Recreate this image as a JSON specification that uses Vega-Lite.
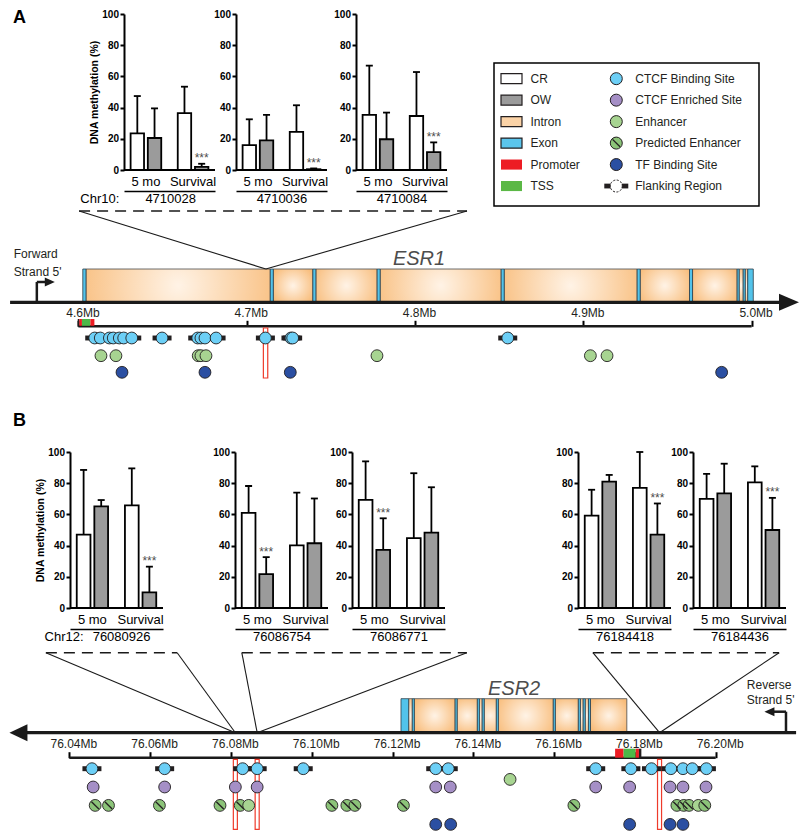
{
"$schema": "https://vega.github.io/schema/vega-lite/v6.json",
"background": "white",
"padding": {"left": 8, "top": 9, "right": 0, "bottom": 0},
"config": {
  "font": "Liberation Sans",
  "view": {"stroke": null},
  "axisBand": {"domainColor": "black", "domainWidth": 1.5, "ticks": false, "tickSize": 0, "labelAngle": 0, "labelFontSize": 13, "labelColor": "black", "labelPadding": -16, "titleFontSize": 13, "titleFontWeight": "normal", "titleColor": "black", "titlePadding": 1, "grid": false},
  "axisLeft": {"domainColor": "black", "domainWidth": 2, "tickColor": "black", "tickWidth": 2, "tickSize": 4, "tickCount": 6, "labelFontSize": 10, "labelFontWeight": "bold", "labelColor": "black", "labelPadding": 1.5, "titleFontSize": 10.5, "titleFontWeight": "bold", "titleColor": "black", "titlePadding": 2, "grid": false},
  "axisTop": {"domain": false, "tickColor": "black", "tickWidth": 2, "tickSize": 6, "labelFontSize": 12, "labelColor": "#231f20", "labelPadding": 1, "grid": false, "labelOverlap": false, "labelFlush": false}
},
"datasets": {
  "bars": [
    {"site":"4710028","stage":"5 mo","group":"CR","value":23.5,"err":47.4,"sig":""},
    {"site":"4710028","stage":"5 mo","group":"OW","value":20.5,"err":39.5,"sig":""},
    {"site":"4710028","stage":"Survival","group":"CR","value":36.5,"err":53.4,"sig":""},
    {"site":"4710028","stage":"Survival","group":"OW","value":2,"err":4,"sig":"***"},
    {"site":"4710036","stage":"5 mo","group":"CR","value":16,"err":32.5,"sig":""},
    {"site":"4710036","stage":"5 mo","group":"OW","value":19,"err":35.3,"sig":""},
    {"site":"4710036","stage":"Survival","group":"CR","value":24.4,"err":41.5,"sig":""},
    {"site":"4710036","stage":"Survival","group":"OW","value":0.5,"err":1,"sig":"***"},
    {"site":"4710084","stage":"5 mo","group":"CR","value":35.3,"err":66.9,"sig":""},
    {"site":"4710084","stage":"5 mo","group":"OW","value":19.7,"err":36.8,"sig":""},
    {"site":"4710084","stage":"Survival","group":"CR","value":34.6,"err":62.8,"sig":""},
    {"site":"4710084","stage":"Survival","group":"OW","value":11.5,"err":17.7,"sig":"***"},
    {"site":"76080926","stage":"5 mo","group":"CR","value":47,"err":88.5,"sig":""},
    {"site":"76080926","stage":"5 mo","group":"OW","value":65.2,"err":69.2,"sig":""},
    {"site":"76080926","stage":"Survival","group":"CR","value":65.8,"err":89.5,"sig":""},
    {"site":"76080926","stage":"Survival","group":"OW","value":10,"err":26.5,"sig":"***"},
    {"site":"76086754","stage":"5 mo","group":"CR","value":61,"err":78.2,"sig":""},
    {"site":"76086754","stage":"5 mo","group":"OW","value":21.7,"err":32.6,"sig":"***"},
    {"site":"76086754","stage":"Survival","group":"CR","value":40.2,"err":74,"sig":""},
    {"site":"76086754","stage":"Survival","group":"OW","value":41.5,"err":70.2,"sig":""},
    {"site":"76086771","stage":"5 mo","group":"CR","value":69.3,"err":94,"sig":""},
    {"site":"76086771","stage":"5 mo","group":"OW","value":37.3,"err":57.5,"sig":"***"},
    {"site":"76086771","stage":"Survival","group":"CR","value":44.8,"err":86.4,"sig":""},
    {"site":"76086771","stage":"Survival","group":"OW","value":48.3,"err":77.4,"sig":""},
    {"site":"76184418","stage":"5 mo","group":"CR","value":59.2,"err":75.8,"sig":""},
    {"site":"76184418","stage":"5 mo","group":"OW","value":81,"err":85.3,"sig":""},
    {"site":"76184418","stage":"Survival","group":"CR","value":77,"err":100,"sig":""},
    {"site":"76184418","stage":"Survival","group":"OW","value":47,"err":67,"sig":"***"},
    {"site":"76184436","stage":"5 mo","group":"CR","value":70,"err":86,"sig":""},
    {"site":"76184436","stage":"5 mo","group":"OW","value":73.5,"err":92.5,"sig":""},
    {"site":"76184436","stage":"Survival","group":"CR","value":80.5,"err":90.8,"sig":""},
    {"site":"76184436","stage":"Survival","group":"OW","value":50,"err":70.6,"sig":"***"}
  ],
  "legendItems": [
    {"label":"CR","col":0,"row":0,"kind":"box"},
    {"label":"OW","col":0,"row":1,"kind":"box"},
    {"label":"Intron","col":0,"row":2,"kind":"box"},
    {"label":"Exon","col":0,"row":3,"kind":"box"},
    {"label":"Promoter","col":0,"row":4,"kind":"flat"},
    {"label":"TSS","col":0,"row":5,"kind":"flat"},
    {"label":"CTCF Binding Site","col":1,"row":0,"kind":"dot"},
    {"label":"CTCF Enriched Site","col":1,"row":1,"kind":"dot"},
    {"label":"Enhancer","col":1,"row":2,"kind":"dot"},
    {"label":"Predicted Enhancer","col":1,"row":3,"kind":"dot"},
    {"label":"TF Binding Site","col":1,"row":4,"kind":"dot"},
    {"label":"Flanking Region","col":1,"row":5,"kind":"flank"}
  ],
  "partsA": [
    {"start":4.6026,"end":4.6045,"part":"exon"},
    {"start":4.6045,"end":4.7140,"part":"intron"},
    {"start":4.7140,"end":4.7158,"part":"exon"},
    {"start":4.7158,"end":4.7393,"part":"intron"},
    {"start":4.7393,"end":4.7411,"part":"exon"},
    {"start":4.7411,"end":4.7775,"part":"intron"},
    {"start":4.7775,"end":4.7793,"part":"exon"},
    {"start":4.7793,"end":4.8512,"part":"intron"},
    {"start":4.8512,"end":4.8530,"part":"exon"},
    {"start":4.8530,"end":4.9320,"part":"intron"},
    {"start":4.9320,"end":4.9338,"part":"exon"},
    {"start":4.9338,"end":4.9631,"part":"intron"},
    {"start":4.9631,"end":4.9649,"part":"exon"},
    {"start":4.9649,"end":4.9914,"part":"intron"},
    {"start":4.9914,"end":4.9926,"part":"exon"},
    {"start":4.9926,"end":4.9950,"part":"intron"},
    {"start":4.9950,"end":4.9962,"part":"exon"},
    {"start":4.9962,"end":4.9977,"part":"intron"},
    {"start":4.9977,"end":5.0010,"part":"exon"}
  ],
  "linesA": [
    {"x":4.6004,"x2":4.8309,"y":9.13,"y2":9.13,"style":"dash"},
    {"x":4.6004,"x2":4.7114,"y":9.13,"y2":3.33,"style":"link"},
    {"x":4.8309,"x2":4.7114,"y":9.13,"y2":3.33,"style":"link"},
    {"x":4.5594,"x2":5.0222,"y":0,"y2":0,"style":"strand"},
    {"x":4.5753,"x2":4.5753,"y":0,"y2":2.03,"style":"bent"},
    {"x":4.5753,"x2":4.5830,"y":2.03,"y2":2.03,"style":"bent"},
    {"x":4.6,"x2":5.0,"y":-2.4,"y2":-2.4,"style":"scale"}
  ],
  "arrowsA": [
    {"x":5.0222,"y":0,"kind":"main"},
    {"x":4.5830,"y":2.03,"kind":"bent"}
  ],
  "labelsA": [
    {"x":4.8024,"y":4.33,"text":"ESR1","kind":"gene"},
    {"x":4.5616,"y":4.83,"text":"Forward","kind":"strand"},
    {"x":4.5616,"y":3.03,"text":"Strand 5'","kind":"strand"}
  ],
  "promA": [
    {"start":4.5996,"end":4.6005,"part":"edge"},
    {"start":4.6005,"end":4.6021,"part":"promoter"},
    {"start":4.6021,"end":4.6071,"part":"tss"},
    {"start":4.6071,"end":4.6095,"part":"promoter"}
  ],
  "cpgA": [
    {"start":4.7099,"end":4.7125}
  ],
  "sitesA": [
    {"pos":4.6097,"type":"CTCF Binding Site","lane":-3.57},
    {"pos":4.6130,"type":"CTCF Binding Site","lane":-3.57},
    {"pos":4.6184,"type":"CTCF Binding Site","lane":-3.57},
    {"pos":4.6207,"type":"CTCF Binding Site","lane":-3.57},
    {"pos":4.6243,"type":"CTCF Binding Site","lane":-3.57},
    {"pos":4.6269,"type":"CTCF Binding Site","lane":-3.57},
    {"pos":4.6317,"type":"CTCF Binding Site","lane":-3.57},
    {"pos":4.6497,"type":"CTCF Binding Site","lane":-3.57},
    {"pos":4.6709,"type":"CTCF Binding Site","lane":-3.57},
    {"pos":4.6728,"type":"CTCF Binding Site","lane":-3.57},
    {"pos":4.6752,"type":"CTCF Binding Site","lane":-3.57},
    {"pos":4.6818,"type":"CTCF Binding Site","lane":-3.57},
    {"pos":4.7111,"type":"CTCF Binding Site","lane":-3.57},
    {"pos":4.7263,"type":"CTCF Binding Site","lane":-3.57},
    {"pos":4.7273,"type":"CTCF Binding Site","lane":-3.57},
    {"pos":4.8551,"type":"CTCF Binding Site","lane":-3.57},
    {"pos":4.6134,"type":"Enhancer","lane":-5.34},
    {"pos":4.6223,"type":"Enhancer","lane":-5.34},
    {"pos":4.6712,"type":"Enhancer","lane":-5.34},
    {"pos":4.6728,"type":"Enhancer","lane":-5.34},
    {"pos":4.6758,"type":"Enhancer","lane":-5.34},
    {"pos":4.7774,"type":"Enhancer","lane":-5.34},
    {"pos":4.9042,"type":"Enhancer","lane":-5.34},
    {"pos":4.9141,"type":"Enhancer","lane":-5.34},
    {"pos":4.6259,"type":"TF Binding Site","lane":-7.0},
    {"pos":4.6752,"type":"TF Binding Site","lane":-7.0},
    {"pos":4.7259,"type":"TF Binding Site","lane":-7.0},
    {"pos":4.9822,"type":"TF Binding Site","lane":-7.0}
  ],
  "partsB": [
    {"start":76.1221,"end":76.1240,"part":"exon"},
    {"start":76.1240,"end":76.1249,"part":"intron"},
    {"start":76.1249,"end":76.1254,"part":"exon"},
    {"start":76.1254,"end":76.1355,"part":"intron"},
    {"start":76.1355,"end":76.1360,"part":"exon"},
    {"start":76.1360,"end":76.1410,"part":"intron"},
    {"start":76.1410,"end":76.1415,"part":"exon"},
    {"start":76.1415,"end":76.1422,"part":"intron"},
    {"start":76.1422,"end":76.1427,"part":"exon"},
    {"start":76.1427,"end":76.1457,"part":"intron"},
    {"start":76.1457,"end":76.1462,"part":"exon"},
    {"start":76.1462,"end":76.1598,"part":"intron"},
    {"start":76.1598,"end":76.1603,"part":"exon"},
    {"start":76.1603,"end":76.1660,"part":"intron"},
    {"start":76.1660,"end":76.1665,"part":"exon"},
    {"start":76.1665,"end":76.1672,"part":"intron"},
    {"start":76.1672,"end":76.1677,"part":"exon"},
    {"start":76.1677,"end":76.1685,"part":"intron"},
    {"start":76.1685,"end":76.1690,"part":"exon"},
    {"start":76.1690,"end":76.1780,"part":"intron"}
  ],
  "linesB": [
    {"x":76.0342,"x2":76.0667,"y":8,"y2":8,"style":"dash"},
    {"x":76.0827,"x2":76.1384,"y":8,"y2":8,"style":"dash"},
    {"x":76.1696,"x2":76.2157,"y":8,"y2":8,"style":"dash"},
    {"x":76.0342,"x2":76.0811,"y":8,"y2":0,"style":"link"},
    {"x":76.0667,"x2":76.0811,"y":8,"y2":0,"style":"link"},
    {"x":76.0827,"x2":76.0865,"y":8,"y2":0,"style":"link"},
    {"x":76.1384,"x2":76.0865,"y":8,"y2":0,"style":"link"},
    {"x":76.1696,"x2":76.1861,"y":8,"y2":0,"style":"link"},
    {"x":76.2157,"x2":76.1861,"y":8,"y2":0,"style":"link"},
    {"x":76.0274,"x2":76.2199,"y":0,"y2":0,"style":"strand"},
    {"x":76.2174,"x2":76.2174,"y":0,"y2":2.1,"style":"bent"},
    {"x":76.2174,"x2":76.2133,"y":2.1,"y2":2.1,"style":"bent"},
    {"x":76.04,"x2":76.20,"y":-2.5,"y2":-2.5,"style":"scale"}
  ],
  "arrowsB": [
    {"x":76.0274,"y":0,"kind":"main"},
    {"x":76.2133,"y":2.1,"kind":"bent"}
  ],
  "labelsB": [
    {"x":76.1501,"y":4.33,"text":"ESR2","kind":"gene"},
    {"x":76.2077,"y":4.75,"text":"Reverse","kind":"strand"},
    {"x":76.2077,"y":3.3,"text":"Strand 5'","kind":"strand"}
  ],
  "promB": [
    {"start":76.1751,"end":76.1772,"part":"promoter"},
    {"start":76.1772,"end":76.1802,"part":"tss"},
    {"start":76.1802,"end":76.1810,"part":"promoter"},
    {"start":76.1810,"end":76.1816,"part":"edge"}
  ],
  "cpgB": [
    {"start":76.0806,"end":76.0816},
    {"start":76.0860,"end":76.0870},
    {"start":76.1856,"end":76.1866}
  ],
  "sitesB": [
    {"pos":76.0456,"type":"CTCF Binding Site","lane":-3.6},
    {"pos":76.0636,"type":"CTCF Binding Site","lane":-3.6},
    {"pos":76.0829,"type":"CTCF Binding Site","lane":-3.6},
    {"pos":76.0865,"type":"CTCF Binding Site","lane":-3.6},
    {"pos":76.0979,"type":"CTCF Binding Site","lane":-3.6},
    {"pos":76.1307,"type":"CTCF Binding Site","lane":-3.6},
    {"pos":76.1338,"type":"CTCF Binding Site","lane":-3.6},
    {"pos":76.1703,"type":"CTCF Binding Site","lane":-3.6},
    {"pos":76.1790,"type":"CTCF Binding Site","lane":-3.6},
    {"pos":76.1841,"type":"CTCF Binding Site","lane":-3.6},
    {"pos":76.1889,"type":"CTCF Binding Site","lane":-3.6},
    {"pos":76.1919,"type":"CTCF Binding Site","lane":-3.6},
    {"pos":76.1942,"type":"CTCF Binding Site","lane":-3.6},
    {"pos":76.1977,"type":"CTCF Binding Site","lane":-3.6},
    {"pos":76.1491,"type":"Enhancer","lane":-4.67},
    {"pos":76.0459,"type":"CTCF Enriched Site","lane":-5.43},
    {"pos":76.0636,"type":"CTCF Enriched Site","lane":-5.43},
    {"pos":76.0811,"type":"CTCF Enriched Site","lane":-5.43},
    {"pos":76.0865,"type":"CTCF Enriched Site","lane":-5.43},
    {"pos":76.1307,"type":"CTCF Enriched Site","lane":-5.43},
    {"pos":76.1343,"type":"CTCF Enriched Site","lane":-5.43},
    {"pos":76.1703,"type":"CTCF Enriched Site","lane":-5.43},
    {"pos":76.1787,"type":"CTCF Enriched Site","lane":-5.43},
    {"pos":76.1887,"type":"CTCF Enriched Site","lane":-5.43},
    {"pos":76.1919,"type":"CTCF Enriched Site","lane":-5.43},
    {"pos":76.1976,"type":"CTCF Enriched Site","lane":-5.43},
    {"pos":76.0464,"type":"Predicted Enhancer","lane":-7.27},
    {"pos":76.0497,"type":"Predicted Enhancer","lane":-7.27},
    {"pos":76.0623,"type":"Predicted Enhancer","lane":-7.27},
    {"pos":76.0773,"type":"Predicted Enhancer","lane":-7.27},
    {"pos":76.0823,"type":"Predicted Enhancer","lane":-7.27},
    {"pos":76.0844,"type":"Enhancer","lane":-7.27},
    {"pos":76.1050,"type":"Predicted Enhancer","lane":-7.27},
    {"pos":76.1087,"type":"Predicted Enhancer","lane":-7.27},
    {"pos":76.1107,"type":"Predicted Enhancer","lane":-7.27},
    {"pos":76.1227,"type":"Predicted Enhancer","lane":-7.27},
    {"pos":76.1649,"type":"Predicted Enhancer","lane":-7.27},
    {"pos":76.1904,"type":"Predicted Enhancer","lane":-7.27},
    {"pos":76.1921,"type":"Predicted Enhancer","lane":-7.27},
    {"pos":76.1934,"type":"Predicted Enhancer","lane":-7.27},
    {"pos":76.1957,"type":"Enhancer","lane":-7.27},
    {"pos":76.1973,"type":"Predicted Enhancer","lane":-7.27},
    {"pos":76.1307,"type":"TF Binding Site","lane":-9.17},
    {"pos":76.1344,"type":"TF Binding Site","lane":-9.17},
    {"pos":76.1787,"type":"TF Binding Site","lane":-9.17},
    {"pos":76.1887,"type":"TF Binding Site","lane":-9.17},
    {"pos":76.1919,"type":"TF Binding Site","lane":-9.17}
  ]
},
"resolve": {"scale": {"fill": "independent", "color": "independent", "xOffset": "independent"}},
"spacing": 0,
"vconcat": [
 {
  "spacing": 45,
  "resolve": {"scale": {"fill": "independent", "xOffset": "independent"}},
  "hconcat": [
   {"spacing": 50,
    "resolve": {"scale": {"xOffset": "independent"}},
    "hconcat": [
     {"width": 20, "height": 156, "data": {"values": []}, "mark": "point",
      "title": {"text": "A", "anchor": "start", "baseline": "top", "dy": 13.4, "dx": 4, "offset": 0, "fontSize": 18, "fontWeight": "bold", "color": "black"}},
     {"spacing": -3,
      "resolve": {"scale": {"xOffset": "independent"}},
      "hconcat": [
       {"width": 91, "height": 156, "data": {"name": "bars"}, "transform": [{"filter": "datum.site === '4710028'"}],
        "layer": [
         {"mark": {"type": "bar", "stroke": "black", "strokeWidth": 1.8},
          "encoding": {"x": {"field":"stage","type":"nominal","sort":["5 mo","Survival"],"scale":{"paddingInner":0.35,"paddingOuter":0.14},"axis":{"title":"Chr10:\u2003\u20034710028\u2003\u2002\u2060","titleAnchor":"end","offset":21}},
           "xOffset": {"field":"group","type":"nominal","sort":["CR","OW"],"scale":{"paddingInner":0.22}},
           "y": {"field":"value","type":"quantitative","scale":{"domain":[0,100],"nice":false},"axis":{"title":"DNA methylation (%)"}},
           "fill": {"field":"group","type":"nominal","scale":{"domain":["CR","OW"],"range":["#ffffff","#9b9b9b"]},"legend":null}}},
         {"mark": {"type": "rule", "color": "black", "strokeWidth": 1.8},
          "encoding": {"x": {"field":"stage","type":"nominal","sort":["5 mo","Survival"],"axis":{"title":"Chr10:\u2003\u20034710028\u2003\u2002\u2060","titleAnchor":"end","offset":21}},
           "xOffset": {"field":"group","type":"nominal","sort":["CR","OW"]},
           "y": {"field":"value","type":"quantitative","axis":{"title":"DNA methylation (%)"}}, "y2": {"field":"err"}}},
         {"mark": {"type": "tick", "orient": "horizontal", "color": "black", "size": 7, "thickness": 1.8, "opacity": 1},
          "encoding": {"x": {"field":"stage","type":"nominal","sort":["5 mo","Survival"],"axis":{"title":"Chr10:\u2003\u20034710028\u2003\u2002\u2060","titleAnchor":"end","offset":21}},
           "xOffset": {"field":"group","type":"nominal","sort":["CR","OW"]},
           "y": {"field":"err","type":"quantitative","axis":{"title":"DNA methylation (%)"}}}},
         {"transform": [{"filter": "datum.sig !== ''"}],
          "mark": {"type": "text", "fontSize": 12, "color": "#4d4d4d", "baseline": "alphabetic", "dy": -1.5},
          "encoding": {"x": {"field":"stage","type":"nominal","sort":["5 mo","Survival"],"axis":{"title":"Chr10:\u2003\u20034710028\u2003\u2002\u2060","titleAnchor":"end","offset":21}},
           "xOffset": {"field":"group","type":"nominal","sort":["CR","OW"]},
           "y": {"field":"err","type":"quantitative","axis":{"title":"DNA methylation (%)"}}, "text": {"field":"sig"}}},
         {"mark": {"type": "rule", "color": "black", "strokeWidth": 1.8},
          "encoding": {"y": {"datum": 0, "axis": {"title": "DNA methylation (%)"}}}}
        ]},
       {"spacing": 5,
        "resolve": {"scale": {"xOffset": "independent"}},
        "hconcat": [
         {"width": 91, "height": 156, "data": {"name": "bars"}, "transform": [{"filter": "datum.site === '4710036'"}],
          "layer": [
           {"mark": {"type": "bar", "stroke": "black", "strokeWidth": 1.8},
            "encoding": {"x": {"field":"stage","type":"nominal","sort":["5 mo","Survival"],"scale":{"paddingInner":0.35,"paddingOuter":0.14},"axis":{"title":"4710036","offset":21}},
             "xOffset": {"field":"group","type":"nominal","sort":["CR","OW"],"scale":{"paddingInner":0.22}},
             "y": {"field":"value","type":"quantitative","scale":{"domain":[0,100],"nice":false},"axis":{"title":null}},
             "fill": {"field":"group","type":"nominal","scale":{"domain":["CR","OW"],"range":["#ffffff","#9b9b9b"]},"legend":null}}},
           {"mark": {"type": "rule", "color": "black", "strokeWidth": 1.8},
            "encoding": {"x": {"field":"stage","type":"nominal","sort":["5 mo","Survival"],"axis":{"title":"4710036","offset":21}},
             "xOffset": {"field":"group","type":"nominal","sort":["CR","OW"]},
             "y": {"field":"value","type":"quantitative","axis":{"title":null}}, "y2": {"field":"err"}}},
           {"mark": {"type": "tick", "orient": "horizontal", "color": "black", "size": 7, "thickness": 1.8, "opacity": 1},
            "encoding": {"x": {"field":"stage","type":"nominal","sort":["5 mo","Survival"],"axis":{"title":"4710036","offset":21}},
             "xOffset": {"field":"group","type":"nominal","sort":["CR","OW"]},
             "y": {"field":"err","type":"quantitative","axis":{"title":null}}}},
           {"transform": [{"filter": "datum.sig !== ''"}],
            "mark": {"type": "text", "fontSize": 12, "color": "#4d4d4d", "baseline": "alphabetic", "dy": -1.5},
            "encoding": {"x": {"field":"stage","type":"nominal","sort":["5 mo","Survival"],"axis":{"title":"4710036","offset":21}},
             "xOffset": {"field":"group","type":"nominal","sort":["CR","OW"]},
             "y": {"field":"err","type":"quantitative","axis":{"title":null}}, "text": {"field":"sig"}}},
           {"mark": {"type": "rule", "color": "black", "strokeWidth": 1.8},
            "encoding": {"y": {"datum": 0, "axis": {"title": null}}}}
          ]},
         {"width": 91, "height": 156, "data": {"name": "bars"}, "transform": [{"filter": "datum.site === '4710084'"}],
          "layer": [
           {"mark": {"type": "bar", "stroke": "black", "strokeWidth": 1.8},
            "encoding": {"x": {"field":"stage","type":"nominal","sort":["5 mo","Survival"],"scale":{"paddingInner":0.35,"paddingOuter":0.14},"axis":{"title":"4710084","offset":21}},
             "xOffset": {"field":"group","type":"nominal","sort":["CR","OW"],"scale":{"paddingInner":0.22}},
             "y": {"field":"value","type":"quantitative","scale":{"domain":[0,100],"nice":false},"axis":{"title":null}},
             "fill": {"field":"group","type":"nominal","scale":{"domain":["CR","OW"],"range":["#ffffff","#9b9b9b"]},"legend":null}}},
           {"mark": {"type": "rule", "color": "black", "strokeWidth": 1.8},
            "encoding": {"x": {"field":"stage","type":"nominal","sort":["5 mo","Survival"],"axis":{"title":"4710084","offset":21}},
             "xOffset": {"field":"group","type":"nominal","sort":["CR","OW"]},
             "y": {"field":"value","type":"quantitative","axis":{"title":null}}, "y2": {"field":"err"}}},
           {"mark": {"type": "tick", "orient": "horizontal", "color": "black", "size": 7, "thickness": 1.8, "opacity": 1},
            "encoding": {"x": {"field":"stage","type":"nominal","sort":["5 mo","Survival"],"axis":{"title":"4710084","offset":21}},
             "xOffset": {"field":"group","type":"nominal","sort":["CR","OW"]},
             "y": {"field":"err","type":"quantitative","axis":{"title":null}}}},
           {"transform": [{"filter": "datum.sig !== ''"}],
            "mark": {"type": "text", "fontSize": 12, "color": "#4d4d4d", "baseline": "alphabetic", "dy": -1.5},
            "encoding": {"x": {"field":"stage","type":"nominal","sort":["5 mo","Survival"],"axis":{"title":"4710084","offset":21}},
             "xOffset": {"field":"group","type":"nominal","sort":["CR","OW"]},
             "y": {"field":"err","type":"quantitative","axis":{"title":null}}, "text": {"field":"sig"}}},
           {"mark": {"type": "rule", "color": "black", "strokeWidth": 1.8},
            "encoding": {"y": {"datum": 0, "axis": {"title": null}}}}
          ]}
        ]}
      ]}
    ]},
   {"spacing": 0,
    "vconcat": [
     {"width": 265, "height": 48, "data": {"values": []}, "mark": "point"},
     {"width": 265, "height": 143,
      "view": {"stroke": "black", "strokeWidth": 1.5},
      "data": {"name": "legendItems"},
      "layer": [
       {"transform": [{"filter": "datum.kind === 'box'"}],
        "mark": {"type": "point", "shape": "M-1,-0.48H1V0.48H-1Z", "size": 441, "filled": true, "opacity": 1, "stroke": "#231f20", "strokeWidth": 1.2},
        "encoding": {"x": {"field":"col","type":"quantitative","scale":{"domain":[-0.167,2.362],"nice":false,"zero":false},"axis":null},
         "y": {"field":"row","type":"quantitative","scale":{"domain":[-0.73,5.93],"reverse":true,"nice":false,"zero":false},"axis":null},
         "fill": {"field":"label","type":"nominal","scale":{"domain":["CR","OW","Intron","Exon","Promoter","TSS","CTCF Binding Site","CTCF Enriched Site","Enhancer","Predicted Enhancer","TF Binding Site","Flanking Region"],"range":["#ffffff","#9b9b9b","#fbd3a7","#5bc5ec","#ed1c24","#5bb846","#6ccff6","#a58fc6","#a7d491","#8cc479","#2b4fa2","#ffffff"]},"legend":null}}},
       {"transform": [{"filter": "datum.kind === 'flat'"}],
        "mark": {"type": "point", "shape": "M-1,-0.48H1V0.48H-1Z", "size": 441, "filled": true, "opacity": 1, "strokeWidth": 0},
        "encoding": {"x": {"field":"col","type":"quantitative","axis":null}, "y": {"field":"row","type":"quantitative","axis":null}, "fill": {"field":"label","type":"nominal","legend":null}}},
       {"transform": [{"filter": "datum.kind === 'dot'"}],
        "mark": {"type": "circle", "size": 144, "opacity": 1, "stroke": "#231f20", "strokeWidth": 1},
        "encoding": {"x": {"field":"col","type":"quantitative","axis":null}, "y": {"field":"row","type":"quantitative","axis":null}, "fill": {"field":"label","type":"nominal","legend":null}}},
       {"transform": [{"filter": "datum.label === 'Predicted Enhancer'"}],
        "mark": {"type": "point", "shape": "M-0.62,-0.62L0.62,0.62", "size": 144, "filled": false, "opacity": 1, "color": "#231f20", "strokeWidth": 1.3},
        "encoding": {"x": {"field":"col","type":"quantitative","axis":null}, "y": {"field":"row","type":"quantitative","axis":null}}},
       {"transform": [{"filter": "datum.kind === 'flank'"}],
        "mark": {"type": "point", "shape": "M-1,-0.2H1V0.2H-1Z", "size": 576, "filled": true, "opacity": 1, "color": "#231f20"},
        "encoding": {"x": {"field":"col","type":"quantitative","axis":null}, "y": {"field":"row","type":"quantitative","axis":null}}},
       {"transform": [{"filter": "datum.kind === 'flank'"}],
        "mark": {"type": "circle", "size": 144, "opacity": 1, "fill": "white", "stroke": "#231f20", "strokeWidth": 1, "strokeDash": [2, 1.5]},
        "encoding": {"x": {"field":"col","type":"quantitative","axis":null}, "y": {"field":"row","type":"quantitative","axis":null}}},
       {"mark": {"type": "text", "align": "left", "baseline": "middle", "dx": 19, "fontSize": 12, "color": "#231f20"},
        "encoding": {"x": {"field":"col","type":"quantitative","axis":null}, "y": {"field":"row","type":"quantitative","axis":null}, "text": {"field":"label"}}}
      ]}
    ]}
  ]
 },
 {
  "width": 790, "height": 205,
  "layer": [
   {"data": {"name": "partsA"}, "transform": [{"filter": "datum.part === 'intron'"}],
    "mark": {"type": "rect", "fill": {"gradient": "radial", "x1": 0.5, "y1": 0.5, "r1": 0, "x2": 0.5, "y2": 0.5, "r2": 0.6, "stops": [{"offset": 0, "color": "#fff3e6"}, {"offset": 1, "color": "#f8bb78"}]}, "stroke": "#4a4a4a", "strokeWidth": 0.8},
    "encoding": {"x": {"field":"start","type":"quantitative","scale":{"domain":[4.55876,5.02816],"nice":false,"zero":false},
       "axis":{"orient":"top","offset":-119.3,"values":[4.6,4.7,4.8,4.9,5.0],"labelExpr":"format(datum.value, '.1f') + 'Mb'","title":null,"labelOffset":4}},
     "x2": {"field":"end"},
     "y": {"datum": 0, "type": "quantitative", "scale": {"domain": [-10.97, 9.53], "nice": false, "zero": false}, "axis": null},
     "y2": {"datum": 3.33}}},
   {"data": {"name": "partsA"}, "transform": [{"filter": "datum.part === 'exon'"}],
    "mark": {"type": "rect", "fill": "#52c3ea", "stroke": "#2f3e48", "strokeWidth": 0.8},
    "encoding": {"x": {"field":"start","type":"quantitative"}, "x2": {"field":"end"}, "y": {"datum": 0, "type": "quantitative", "axis": null}, "y2": {"datum": 3.33}}},
   {"data": {"name": "linesA"}, "transform": [{"filter": "datum.style === 'dash'"}],
    "mark": {"type": "rule", "color": "#1a1a1a", "strokeWidth": 1.5, "strokeDash": [11, 7]},
    "encoding": {"x": {"field":"x","type":"quantitative"}, "x2": {"field":"x2"}, "y": {"field":"y","type":"quantitative","axis":null}, "y2": {"field":"y2"}}},
   {"data": {"name": "linesA"}, "transform": [{"filter": "datum.style === 'link'"}],
    "mark": {"type": "rule", "color": "#1a1a1a", "strokeWidth": 1.1},
    "encoding": {"x": {"field":"x","type":"quantitative"}, "x2": {"field":"x2"}, "y": {"field":"y","type":"quantitative","axis":null}, "y2": {"field":"y2"}}},
   {"data": {"name": "linesA"}, "transform": [{"filter": "datum.style === 'strand'"}],
    "mark": {"type": "rule", "color": "#1a1a1a", "strokeWidth": 3.2},
    "encoding": {"x": {"field":"x","type":"quantitative"}, "x2": {"field":"x2"}, "y": {"field":"y","type":"quantitative","axis":null}, "y2": {"field":"y2"}}},
   {"data": {"name": "linesA"}, "transform": [{"filter": "datum.style === 'bent' || datum.style === 'scale'"}],
    "mark": {"type": "rule", "color": "#1a1a1a", "strokeWidth": 2.5},
    "encoding": {"x": {"field":"x","type":"quantitative"}, "x2": {"field":"x2"}, "y": {"field":"y","type":"quantitative","axis":null}, "y2": {"field":"y2"}}},
   {"data": {"name": "promA"},
    "mark": {"type": "rect"},
    "encoding": {"x": {"field":"start","type":"quantitative"}, "x2": {"field":"end"}, "y": {"datum": -1.67, "type": "quantitative", "axis": null}, "y2": {"datum": -2.35},
     "color": {"field":"part","type":"nominal","scale":{"domain":["edge","promoter","tss"],"range":["#231f20","#ed1c24","#4cb848"]},"legend":null}}},
   {"data": {"name": "arrowsA"}, "transform": [{"filter": "datum.kind === 'main'"}],
    "mark": {"type": "point", "shape": "M-1,-0.85L1,0L-1,0.85Z", "size": 400, "filled": true, "opacity": 1, "color": "#1a1a1a"},
    "encoding": {"x": {"field":"x","type":"quantitative"}, "y": {"field":"y","type":"quantitative","axis":null}}},
   {"data": {"name": "arrowsA"}, "transform": [{"filter": "datum.kind === 'bent'"}],
    "mark": {"type": "point", "shape": "M-1,-0.9L1,0L-1,0.9Z", "size": 100, "filled": true, "opacity": 1, "color": "#1a1a1a"},
    "encoding": {"x": {"field":"x","type":"quantitative"}, "y": {"field":"y","type":"quantitative","axis":null}}},
   {"data": {"name": "labelsA"}, "transform": [{"filter": "datum.kind === 'gene'"}],
    "mark": {"type": "text", "fontSize": 20, "fontStyle": "italic", "color": "#4d4d4d", "align": "center", "baseline": "middle"},
    "encoding": {"x": {"field":"x","type":"quantitative"}, "y": {"field":"y","type":"quantitative","axis":null}, "text": {"field":"text"}}},
   {"data": {"name": "labelsA"}, "transform": [{"filter": "datum.kind === 'strand'"}],
    "mark": {"type": "text", "fontSize": 12, "color": "#231f20", "align": "left", "baseline": "middle"},
    "encoding": {"x": {"field":"x","type":"quantitative"}, "y": {"field":"y","type":"quantitative","axis":null}, "text": {"field":"text"}}},
   {"data": {"name": "cpgA"},
    "mark": {"type": "rect", "filled": false, "color": "#ee3b2b", "strokeWidth": 1.2},
    "encoding": {"x": {"field":"start","type":"quantitative"}, "x2": {"field":"end"}, "y": {"datum": -2.57, "type": "quantitative", "axis": null}, "y2": {"datum": -7.57}}},
   {"data": {"name": "sitesA"}, "transform": [{"filter": "datum.type === 'CTCF Binding Site'"}],
    "mark": {"type": "point", "shape": "M-1,-0.26H1V0.26H-1Z", "size": 361, "filled": true, "opacity": 1, "color": "#231f20"},
    "encoding": {"x": {"field":"pos","type":"quantitative"}, "y": {"field":"lane","type":"quantitative","axis":null}}},
   {"data": {"name": "sitesA"},
    "mark": {"type": "circle", "size": 140, "opacity": 1, "stroke": "#231f20", "strokeWidth": 0.9},
    "encoding": {"x": {"field":"pos","type":"quantitative"}, "y": {"field":"lane","type":"quantitative","axis":null},
     "fill": {"field":"type","type":"nominal","scale":{"domain":["CTCF Binding Site","CTCF Enriched Site","Enhancer","Predicted Enhancer","TF Binding Site"],"range":["#6ccff6","#a58fc6","#a7d491","#8cc479","#2b4fa2"]},"legend":null}}}
  ]
 },
 {
  "spacing": 109,
  "resolve": {"scale": {"xOffset": "independent"}},
  "hconcat": [
   {"spacing": 48,
    "resolve": {"scale": {"xOffset": "independent"}},
    "hconcat": [
     {"spacing": 6,
      "resolve": {"scale": {"xOffset": "independent"}},
      "hconcat": [
       {"width": 20, "height": 156, "data": {"values": []}, "mark": "point",
        "title": {"text": "B", "anchor": "start", "baseline": "top", "dy": -22, "dx": 4, "offset": 0, "fontSize": 18, "fontWeight": "bold", "color": "black"}},
       {"width": 93, "height": 156, "data": {"name": "bars"}, "transform": [{"filter": "datum.site === '76080926'"}],
        "layer": [
         {"mark": {"type": "bar", "stroke": "black", "strokeWidth": 1.8},
          "encoding": {"x": {"field":"stage","type":"nominal","sort":["5 mo","Survival"],"scale":{"paddingInner":0.35,"paddingOuter":0.14},"axis":{"title":"Chr12:\u2002\u200976080926\u2002\u2002\u2060","titleAnchor":"end","offset":21}},
           "xOffset": {"field":"group","type":"nominal","sort":["CR","OW"],"scale":{"paddingInner":0.22}},
           "y": {"field":"value","type":"quantitative","scale":{"domain":[0,100],"nice":false},"axis":{"title":"DNA methylation (%)"}},
           "fill": {"field":"group","type":"nominal","scale":{"domain":["CR","OW"],"range":["#ffffff","#9b9b9b"]},"legend":null}}},
         {"mark": {"type": "rule", "color": "black", "strokeWidth": 1.8},
          "encoding": {"x": {"field":"stage","type":"nominal","sort":["5 mo","Survival"],"axis":{"title":"Chr12:\u2002\u200976080926\u2002\u2002\u2060","titleAnchor":"end","offset":21}},
           "xOffset": {"field":"group","type":"nominal","sort":["CR","OW"]},
           "y": {"field":"value","type":"quantitative","axis":{"title":"DNA methylation (%)"}}, "y2": {"field":"err"}}},
         {"mark": {"type": "tick", "orient": "horizontal", "color": "black", "size": 7, "thickness": 1.8, "opacity": 1},
          "encoding": {"x": {"field":"stage","type":"nominal","sort":["5 mo","Survival"],"axis":{"title":"Chr12:\u2002\u200976080926\u2002\u2002\u2060","titleAnchor":"end","offset":21}},
           "xOffset": {"field":"group","type":"nominal","sort":["CR","OW"]},
           "y": {"field":"err","type":"quantitative","axis":{"title":"DNA methylation (%)"}}}},
         {"transform": [{"filter": "datum.sig !== ''"}],
          "mark": {"type": "text", "fontSize": 12, "color": "#4d4d4d", "baseline": "alphabetic", "dy": -1.5},
          "encoding": {"x": {"field":"stage","type":"nominal","sort":["5 mo","Survival"],"axis":{"title":"Chr12:\u2002\u200976080926\u2002\u2002\u2060","titleAnchor":"end","offset":21}},
           "xOffset": {"field":"group","type":"nominal","sort":["CR","OW"]},
           "y": {"field":"err","type":"quantitative","axis":{"title":"DNA methylation (%)"}}, "text": {"field":"sig"}}},
         {"mark": {"type": "rule", "color": "black", "strokeWidth": 1.8},
          "encoding": {"y": {"datum": 0, "axis": {"title": "DNA methylation (%)"}}}}
        ]}
      ]},
     {"spacing": 0,
      "resolve": {"scale": {"xOffset": "independent"}},
      "hconcat": [
       {"width": 93, "height": 156, "data": {"name": "bars"}, "transform": [{"filter": "datum.site === '76086754'"}],
        "layer": [
         {"mark": {"type": "bar", "stroke": "black", "strokeWidth": 1.8},
          "encoding": {"x": {"field":"stage","type":"nominal","sort":["5 mo","Survival"],"scale":{"paddingInner":0.35,"paddingOuter":0.14},"axis":{"title":"76086754","offset":21}},
           "xOffset": {"field":"group","type":"nominal","sort":["CR","OW"],"scale":{"paddingInner":0.22}},
           "y": {"field":"value","type":"quantitative","scale":{"domain":[0,100],"nice":false},"axis":{"title":null}},
           "fill": {"field":"group","type":"nominal","scale":{"domain":["CR","OW"],"range":["#ffffff","#9b9b9b"]},"legend":null}}},
         {"mark": {"type": "rule", "color": "black", "strokeWidth": 1.8},
          "encoding": {"x": {"field":"stage","type":"nominal","sort":["5 mo","Survival"],"axis":{"title":"76086754","offset":21}},
           "xOffset": {"field":"group","type":"nominal","sort":["CR","OW"]},
           "y": {"field":"value","type":"quantitative","axis":{"title":null}}, "y2": {"field":"err"}}},
         {"mark": {"type": "tick", "orient": "horizontal", "color": "black", "size": 7, "thickness": 1.8, "opacity": 1},
          "encoding": {"x": {"field":"stage","type":"nominal","sort":["5 mo","Survival"],"axis":{"title":"76086754","offset":21}},
           "xOffset": {"field":"group","type":"nominal","sort":["CR","OW"]},
           "y": {"field":"err","type":"quantitative","axis":{"title":null}}}},
         {"transform": [{"filter": "datum.sig !== ''"}],
          "mark": {"type": "text", "fontSize": 12, "color": "#4d4d4d", "baseline": "alphabetic", "dy": -1.5},
          "encoding": {"x": {"field":"stage","type":"nominal","sort":["5 mo","Survival"],"axis":{"title":"76086754","offset":21}},
           "xOffset": {"field":"group","type":"nominal","sort":["CR","OW"]},
           "y": {"field":"err","type":"quantitative","axis":{"title":null}}, "text": {"field":"sig"}}},
         {"mark": {"type": "rule", "color": "black", "strokeWidth": 1.8},
          "encoding": {"y": {"datum": 0, "axis": {"title": null}}}}
        ]},
       {"width": 93, "height": 156, "data": {"name": "bars"}, "transform": [{"filter": "datum.site === '76086771'"}],
        "layer": [
         {"mark": {"type": "bar", "stroke": "black", "strokeWidth": 1.8},
          "encoding": {"x": {"field":"stage","type":"nominal","sort":["5 mo","Survival"],"scale":{"paddingInner":0.35,"paddingOuter":0.14},"axis":{"title":"76086771","offset":21}},
           "xOffset": {"field":"group","type":"nominal","sort":["CR","OW"],"scale":{"paddingInner":0.22}},
           "y": {"field":"value","type":"quantitative","scale":{"domain":[0,100],"nice":false},"axis":{"title":null}},
           "fill": {"field":"group","type":"nominal","scale":{"domain":["CR","OW"],"range":["#ffffff","#9b9b9b"]},"legend":null}}},
         {"mark": {"type": "rule", "color": "black", "strokeWidth": 1.8},
          "encoding": {"x": {"field":"stage","type":"nominal","sort":["5 mo","Survival"],"axis":{"title":"76086771","offset":21}},
           "xOffset": {"field":"group","type":"nominal","sort":["CR","OW"]},
           "y": {"field":"value","type":"quantitative","axis":{"title":null}}, "y2": {"field":"err"}}},
         {"mark": {"type": "tick", "orient": "horizontal", "color": "black", "size": 7, "thickness": 1.8, "opacity": 1},
          "encoding": {"x": {"field":"stage","type":"nominal","sort":["5 mo","Survival"],"axis":{"title":"76086771","offset":21}},
           "xOffset": {"field":"group","type":"nominal","sort":["CR","OW"]},
           "y": {"field":"err","type":"quantitative","axis":{"title":null}}}},
         {"transform": [{"filter": "datum.sig !== ''"}],
          "mark": {"type": "text", "fontSize": 12, "color": "#4d4d4d", "baseline": "alphabetic", "dy": -1.5},
          "encoding": {"x": {"field":"stage","type":"nominal","sort":["5 mo","Survival"],"axis":{"title":"76086771","offset":21}},
           "xOffset": {"field":"group","type":"nominal","sort":["CR","OW"]},
           "y": {"field":"err","type":"quantitative","axis":{"title":null}}, "text": {"field":"sig"}}},
         {"mark": {"type": "rule", "color": "black", "strokeWidth": 1.8},
          "encoding": {"y": {"datum": 0, "axis": {"title": null}}}}
        ]}
      ]}
    ]},
   {"spacing": -2,
    "resolve": {"scale": {"xOffset": "independent"}},
    "hconcat": [
     {"width": 93, "height": 156, "data": {"name": "bars"}, "transform": [{"filter": "datum.site === '76184418'"}],
      "layer": [
       {"mark": {"type": "bar", "stroke": "black", "strokeWidth": 1.8},
        "encoding": {"x": {"field":"stage","type":"nominal","sort":["5 mo","Survival"],"scale":{"paddingInner":0.35,"paddingOuter":0.14},"axis":{"title":"76184418","offset":21}},
         "xOffset": {"field":"group","type":"nominal","sort":["CR","OW"],"scale":{"paddingInner":0.22}},
         "y": {"field":"value","type":"quantitative","scale":{"domain":[0,100],"nice":false},"axis":{"title":null}},
         "fill": {"field":"group","type":"nominal","scale":{"domain":["CR","OW"],"range":["#ffffff","#9b9b9b"]},"legend":null}}},
       {"mark": {"type": "rule", "color": "black", "strokeWidth": 1.8},
        "encoding": {"x": {"field":"stage","type":"nominal","sort":["5 mo","Survival"],"axis":{"title":"76184418","offset":21}},
         "xOffset": {"field":"group","type":"nominal","sort":["CR","OW"]},
         "y": {"field":"value","type":"quantitative","axis":{"title":null}}, "y2": {"field":"err"}}},
       {"mark": {"type": "tick", "orient": "horizontal", "color": "black", "size": 7, "thickness": 1.8, "opacity": 1},
        "encoding": {"x": {"field":"stage","type":"nominal","sort":["5 mo","Survival"],"axis":{"title":"76184418","offset":21}},
         "xOffset": {"field":"group","type":"nominal","sort":["CR","OW"]},
         "y": {"field":"err","type":"quantitative","axis":{"title":null}}}},
       {"transform": [{"filter": "datum.sig !== ''"}],
        "mark": {"type": "text", "fontSize": 12, "color": "#4d4d4d", "baseline": "alphabetic", "dy": -1.5},
        "encoding": {"x": {"field":"stage","type":"nominal","sort":["5 mo","Survival"],"axis":{"title":"76184418","offset":21}},
         "xOffset": {"field":"group","type":"nominal","sort":["CR","OW"]},
         "y": {"field":"err","type":"quantitative","axis":{"title":null}}, "text": {"field":"sig"}}},
       {"mark": {"type": "rule", "color": "black", "strokeWidth": 1.8},
        "encoding": {"y": {"datum": 0, "axis": {"title": null}}}}
      ]},
     {"width": 93, "height": 156, "data": {"name": "bars"}, "transform": [{"filter": "datum.site === '76184436'"}],
      "layer": [
       {"mark": {"type": "bar", "stroke": "black", "strokeWidth": 1.8},
        "encoding": {"x": {"field":"stage","type":"nominal","sort":["5 mo","Survival"],"scale":{"paddingInner":0.35,"paddingOuter":0.14},"axis":{"title":"76184436","offset":21}},
         "xOffset": {"field":"group","type":"nominal","sort":["CR","OW"],"scale":{"paddingInner":0.22}},
         "y": {"field":"value","type":"quantitative","scale":{"domain":[0,100],"nice":false},"axis":{"title":null}},
         "fill": {"field":"group","type":"nominal","scale":{"domain":["CR","OW"],"range":["#ffffff","#9b9b9b"]},"legend":null}}},
       {"mark": {"type": "rule", "color": "black", "strokeWidth": 1.8},
        "encoding": {"x": {"field":"stage","type":"nominal","sort":["5 mo","Survival"],"axis":{"title":"76184436","offset":21}},
         "xOffset": {"field":"group","type":"nominal","sort":["CR","OW"]},
         "y": {"field":"value","type":"quantitative","axis":{"title":null}}, "y2": {"field":"err"}}},
       {"mark": {"type": "tick", "orient": "horizontal", "color": "black", "size": 7, "thickness": 1.8, "opacity": 1},
        "encoding": {"x": {"field":"stage","type":"nominal","sort":["5 mo","Survival"],"axis":{"title":"76184436","offset":21}},
         "xOffset": {"field":"group","type":"nominal","sort":["CR","OW"]},
         "y": {"field":"err","type":"quantitative","axis":{"title":null}}}},
       {"transform": [{"filter": "datum.sig !== ''"}],
        "mark": {"type": "text", "fontSize": 12, "color": "#4d4d4d", "baseline": "alphabetic", "dy": -1.5},
        "encoding": {"x": {"field":"stage","type":"nominal","sort":["5 mo","Survival"],"axis":{"title":"76184436","offset":21}},
         "xOffset": {"field":"group","type":"nominal","sort":["CR","OW"]},
         "y": {"field":"err","type":"quantitative","axis":{"title":null}}, "text": {"field":"sig"}}},
       {"mark": {"type": "rule", "color": "black", "strokeWidth": 1.8},
        "encoding": {"y": {"datum": 0, "axis": {"title": null}}}}
      ]}
    ]}
  ]
 },
 {
  "width": 790, "height": 187,
  "layer": [
   {"data": {"name": "partsB"}, "transform": [{"filter": "datum.part === 'intron'"}],
    "mark": {"type": "rect", "fill": {"gradient": "radial", "x1": 0.5, "y1": 0.5, "r1": 0, "x2": 0.5, "y2": 0.5, "r2": 0.6, "stops": [{"offset": 0, "color": "#fff3e6"}, {"offset": 1, "color": "#f8bb78"}]}, "stroke": "#4a4a4a", "strokeWidth": 0.8},
    "encoding": {"x": {"field":"start","type":"quantitative","scale":{"domain":[76.02507,76.22062],"nice":false,"zero":false},
       "axis":{"orient":"top","offset":-114.7,"values":[76.04,76.06,76.08,76.10,76.12,76.14,76.16,76.18,76.20],"labelExpr":"format(datum.value, '.2f') + 'Mb'","title":null,"labelOffset":4}},
     "x2": {"field":"end"},
     "y": {"datum": 0, "type": "quantitative", "scale": {"domain": [-9.73, 8.97], "nice": false, "zero": false}, "axis": null},
     "y2": {"datum": 3.4}}},
   {"data": {"name": "partsB"}, "transform": [{"filter": "datum.part === 'exon'"}],
    "mark": {"type": "rect", "fill": "#52c3ea", "stroke": "#2f3e48", "strokeWidth": 0.8},
    "encoding": {"x": {"field":"start","type":"quantitative"}, "x2": {"field":"end"}, "y": {"datum": 0, "type": "quantitative", "axis": null}, "y2": {"datum": 3.4}}},
   {"data": {"name": "linesB"}, "transform": [{"filter": "datum.style === 'dash'"}],
    "mark": {"type": "rule", "color": "#1a1a1a", "strokeWidth": 1.5, "strokeDash": [11, 7]},
    "encoding": {"x": {"field":"x","type":"quantitative"}, "x2": {"field":"x2"}, "y": {"field":"y","type":"quantitative","axis":null}, "y2": {"field":"y2"}}},
   {"data": {"name": "linesB"}, "transform": [{"filter": "datum.style === 'link'"}],
    "mark": {"type": "rule", "color": "#1a1a1a", "strokeWidth": 1.1},
    "encoding": {"x": {"field":"x","type":"quantitative"}, "x2": {"field":"x2"}, "y": {"field":"y","type":"quantitative","axis":null}, "y2": {"field":"y2"}}},
   {"data": {"name": "linesB"}, "transform": [{"filter": "datum.style === 'strand'"}],
    "mark": {"type": "rule", "color": "#1a1a1a", "strokeWidth": 3.2},
    "encoding": {"x": {"field":"x","type":"quantitative"}, "x2": {"field":"x2"}, "y": {"field":"y","type":"quantitative","axis":null}, "y2": {"field":"y2"}}},
   {"data": {"name": "linesB"}, "transform": [{"filter": "datum.style === 'bent' || datum.style === 'scale'"}],
    "mark": {"type": "rule", "color": "#1a1a1a", "strokeWidth": 2.5},
    "encoding": {"x": {"field":"x","type":"quantitative"}, "x2": {"field":"x2"}, "y": {"field":"y","type":"quantitative","axis":null}, "y2": {"field":"y2"}}},
   {"data": {"name": "promB"},
    "mark": {"type": "rect"},
    "encoding": {"x": {"field":"start","type":"quantitative"}, "x2": {"field":"end"}, "y": {"datum": -1.6, "type": "quantitative", "axis": null}, "y2": {"datum": -2.5},
     "color": {"field":"part","type":"nominal","scale":{"domain":["edge","promoter","tss"],"range":["#231f20","#ed1c24","#4cb848"]},"legend":null}}},
   {"data": {"name": "arrowsB"}, "transform": [{"filter": "datum.kind === 'main'"}],
    "mark": {"type": "point", "shape": "M1,-0.95L-1,0L1,0.95Z", "size": 324, "filled": true, "opacity": 1, "color": "#1a1a1a"},
    "encoding": {"x": {"field":"x","type":"quantitative"}, "y": {"field":"y","type":"quantitative","axis":null}}},
   {"data": {"name": "arrowsB"}, "transform": [{"filter": "datum.kind === 'bent'"}],
    "mark": {"type": "point", "shape": "M1,-0.9L-1,0L1,0.9Z", "size": 100, "filled": true, "opacity": 1, "color": "#1a1a1a"},
    "encoding": {"x": {"field":"x","type":"quantitative"}, "y": {"field":"y","type":"quantitative","axis":null}}},
   {"data": {"name": "labelsB"}, "transform": [{"filter": "datum.kind === 'gene'"}],
    "mark": {"type": "text", "fontSize": 20, "fontStyle": "italic", "color": "#4d4d4d", "align": "center", "baseline": "middle"},
    "encoding": {"x": {"field":"x","type":"quantitative"}, "y": {"field":"y","type":"quantitative","axis":null}, "text": {"field":"text"}}},
   {"data": {"name": "labelsB"}, "transform": [{"filter": "datum.kind === 'strand'"}],
    "mark": {"type": "text", "fontSize": 12, "color": "#231f20", "align": "left", "baseline": "middle"},
    "encoding": {"x": {"field":"x","type":"quantitative"}, "y": {"field":"y","type":"quantitative","axis":null}, "text": {"field":"text"}}},
   {"data": {"name": "cpgB"},
    "mark": {"type": "rect", "filled": false, "color": "#ee3b2b", "strokeWidth": 1.2},
    "encoding": {"x": {"field":"start","type":"quantitative"}, "x2": {"field":"end"}, "y": {"datum": -2.67, "type": "quantitative", "axis": null}, "y2": {"datum": -9.67}}},
   {"data": {"name": "sitesB"}, "transform": [{"filter": "datum.type === 'CTCF Binding Site'"}],
    "mark": {"type": "point", "shape": "M-1,-0.26H1V0.26H-1Z", "size": 361, "filled": true, "opacity": 1, "color": "#231f20"},
    "encoding": {"x": {"field":"pos","type":"quantitative"}, "y": {"field":"lane","type":"quantitative","axis":null}}},
   {"data": {"name": "sitesB"},
    "mark": {"type": "circle", "size": 140, "opacity": 1, "stroke": "#231f20", "strokeWidth": 0.9},
    "encoding": {"x": {"field":"pos","type":"quantitative"}, "y": {"field":"lane","type":"quantitative","axis":null},
     "fill": {"field":"type","type":"nominal","scale":{"domain":["CTCF Binding Site","CTCF Enriched Site","Enhancer","Predicted Enhancer","TF Binding Site"],"range":["#6ccff6","#a58fc6","#a7d491","#8cc479","#2b4fa2"]},"legend":null}}},
   {"data": {"name": "sitesB"}, "transform": [{"filter": "datum.type === 'Predicted Enhancer'"}],
    "mark": {"type": "point", "shape": "M-0.62,-0.62L0.62,0.62", "size": 140, "filled": false, "opacity": 1, "color": "#231f20", "strokeWidth": 1.3},
    "encoding": {"x": {"field":"pos","type":"quantitative"}, "y": {"field":"lane","type":"quantitative","axis":null}}}
  ]
 }
]
}
